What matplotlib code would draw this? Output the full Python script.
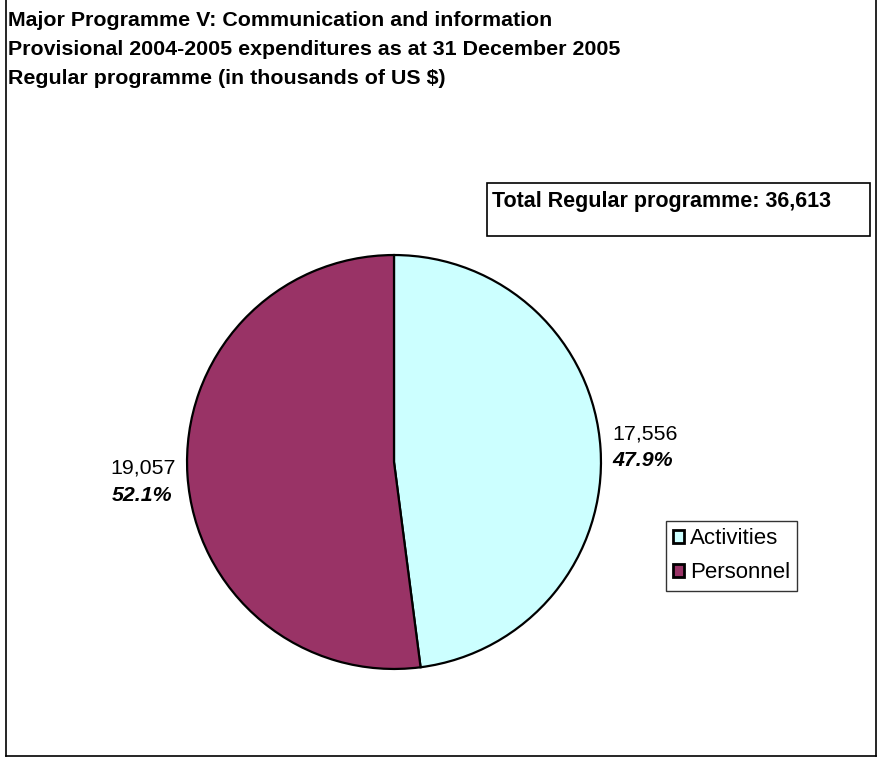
import matplotlib
matplotlib.use("Agg")
import matplotlib.pyplot as plt
from matplotlib.lines import Line2D
from matplotlib.patches import Rectangle

plt.rcParams['font.family'] = ['Liberation Sans', 'DejaVu Sans']

categories = ["Activities", "Personnel"]
values = [17556, 19057]
value_labels = ["17,556", "19,057"]
pct_labels = ["47.9%", "52.1%"]
colors = ["#CCFFFF", "#993366"]
title_lines = ["Major Programme V: Communication and information",
               "Provisional 2004-2005 expenditures as at 31 December 2005",
               "Regular programme (in thousands of US $)"]
total_text = "Total Regular programme: 36,613"

W, H = 878, 758
fig = plt.figure(figsize=(W / 100, H / 100), dpi=100)

def fx(x):
    return x / W

def fy(y):
    return 1 - y / H

# outer border
for xs, ys in [([6, 6], [0, 756]), ([876, 876], [0, 756]), ([6, 876], [756, 756])]:
    fig.add_artist(Line2D([fx(v) for v in xs], [fy(v) for v in ys], color="black", lw=1.2))

# title
for i, line in enumerate(title_lines):
    fig.text(fx(8), fy(26 + 29 * i), line, fontsize=15.4, fontweight="bold", va="baseline", ha="left")

# total box
fig.add_artist(Rectangle((fx(487), fy(236)), (870 - 487) / W, (236 - 183) / H,
                         transform=fig.transFigure, fill=False, edgecolor="black", lw=1.2))
fig.text(fx(492), fy(207), total_text, fontsize=15.5, fontweight="bold", va="baseline", ha="left")

# pie
cx, cy, r = 394, 462, 208
ax = fig.add_axes([fx(cx - r), fy(cy + r), 2 * r / W, 2 * r / H])
wedges, _ = ax.pie(values, colors=colors, startangle=90, counterclock=False,
                   wedgeprops=dict(edgecolor="black", linewidth=1.6))
ax.set_xlim(-1.005, 1.005)
ax.set_ylim(-1.005, 1.005)

# labels
fig.text(fx(612), fy(439), value_labels[0], fontsize=15.4, ha="left", va="baseline")
fig.text(fx(612), fy(466), pct_labels[0], fontsize=15.4, ha="left", va="baseline",
         fontweight="bold", fontstyle="italic")
fig.text(fx(176), fy(473), value_labels[1], fontsize=15.4, ha="right", va="baseline")
fig.text(fx(172), fy(501), pct_labels[1], fontsize=15.4, ha="right", va="baseline",
         fontweight="bold", fontstyle="italic")

# legend
leg = fig.legend(wedges, categories, loc="upper left",
                 bbox_to_anchor=(fx(666), fy(521)), frameon=True, fancybox=False,
                 edgecolor="black", fontsize=16, handlelength=0.5, handleheight=0.5,
                 handletextpad=0.27, borderpad=0.32, labelspacing=0.6, borderaxespad=0)
leg.get_frame().set_linewidth(1.0)
for h in leg.legend_handles:
    h.set_linewidth(2.0)

fig.savefig("out.png", dpi=100)
